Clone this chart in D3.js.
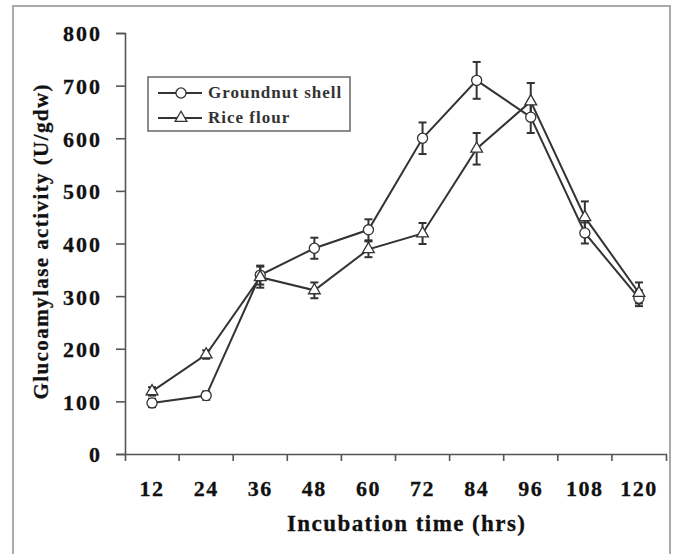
<!DOCTYPE html>
<html>
<head>
<meta charset="utf-8">
<script src="https://cdn.jsdelivr.net/npm/d3@7"></script>
<style>
  body { margin: 0; background: #fff; }
  svg { display: block; font-family: "Liberation Serif", "Times New Roman", serif; }
  .axis text { font-family: "Liberation Serif", serif; font-size: 22px; font-weight: bold; fill: #111; stroke: #111; stroke-width: 0.3; }
  .axis path, .axis line { stroke: #555; stroke-width: 1.6; }
</style>
</head>
<body>
<svg id="chart" width="677" height="554"></svg>
<script>
'use strict';

// incubation time (hrs)
const hours = ['12', '24', '36', '48', '60', '72', '84', '96', '108', '120'];

// glucoamylase activity (U/gdw)
const groundnut = [97, 111, 340, 391, 426, 600, 710, 640, 420, 296];
const groundnutErr = [8, 8, 18, 20, 20, 30, 35, 30, 20, 15];

const rice = [119, 189, 336, 311, 389, 419, 580, 670, 450, 306];
const riceErr = [8, 8, 20, 15, 15, 20, 30, 35, 30, 20];

const yTicks = [0, 100, 200, 300, 400, 500, 600, 700, 800];

const svg = d3.select('#chart');

// figure frame
svg.append('rect')
  .attr('x', 13)
  .attr('y', 6)
  .attr('width', 657)
  .attr('height', 560)
  .attr('fill', 'none')
  .attr('stroke', '#aaa')
  .attr('stroke-width', 2);

const x = d3.scaleBand()
  .domain(hours)
  .range([125, 666]);

const y = d3.scaleLinear()
  .domain([0, 800])
  .range([454, 33]);

const cx = h => x(h) + x.bandwidth() / 2;

// y axis
svg.append('g')
  .attr('class', 'axis')
  .attr('transform', 'translate(125,0)')
  .call(d3.axisLeft(y).tickValues(yTicks).tickSize(9).tickPadding(14).tickFormat(d3.format('d')))
  .call(g => g.selectAll('text').attr('letter-spacing', 2).attr('dy', '0.36em'));

// x axis, labels centred in each category
svg.append('g')
  .attr('class', 'axis')
  .attr('transform', 'translate(0,454)')
  .call(d3.axisBottom(x).tickSizeInner(0).tickSizeOuter(7).tickPadding(26))
  .call(g => g.selectAll('text').attr('letter-spacing', 1.5));

// category boundary ticks
svg.append('g')
  .attr('class', 'axis')
  .selectAll('line')
  .data(hours.slice(1))
  .join('line')
  .attr('x1', d => x(d))
  .attr('x2', d => x(d))
  .attr('y1', 454)
  .attr('y2', 461);

// axis titles
svg.append('text')
  .attr('x', 406)
  .attr('y', 531)
  .attr('text-anchor', 'middle')
  .attr('font-size', 23)
  .attr('font-weight', 'bold')
  .attr('fill', '#111')
  .attr('stroke', '#111')
  .attr('stroke-width', 0.3)
  .attr('textLength', 238)
  .text('Incubation time (hrs)');

svg.append('text')
  .attr('transform', 'translate(48,242) rotate(-90)')
  .attr('text-anchor', 'middle')
  .attr('font-size', 21)
  .attr('font-weight', 'bold')
  .attr('fill', '#111')
  .attr('stroke', '#111')
  .attr('stroke-width', 0.3)
  .attr('textLength', 315)
  .text('Glucoamylase activity (U/gdw)');

const series = [
  {name: 'Groundnut shell', values: groundnut, err: groundnutErr, marker: 'circle'},
  {name: 'Rice flour', values: rice, err: riceErr, marker: 'triangle'}
];

const line = d3.line()
  .x((d, i) => cx(hours[i]))
  .y(d => y(d));

const symbolPath = {
  circle: d3.symbol(d3.symbolCircle, 80)(),
  triangle: d3.symbol(d3.symbolTriangle, 60)()
};

const ink = '#333';

series.forEach(s => {
  svg.append('path')
    .datum(s.values)
    .attr('d', line)
    .attr('fill', 'none')
    .attr('stroke', ink)
    .attr('stroke-width', 2);
});

// error bars
series.forEach(s => {
  const bars = svg.append('g')
    .selectAll('g')
    .data(s.values.map((v, i) => ({h: hours[i], v: v, e: s.err[i]})))
    .join('g')
    .attr('stroke', ink)
    .attr('stroke-width', 2);

  bars.append('line')
    .attr('x1', d => cx(d.h))
    .attr('x2', d => cx(d.h))
    .attr('y1', d => y(d.v - d.e))
    .attr('y2', d => y(d.v + d.e));

  [-1, 1].forEach(sign => {
    bars.append('line')
      .attr('x1', d => cx(d.h) - 4)
      .attr('x2', d => cx(d.h) + 4)
      .attr('y1', d => y(d.v + sign * d.e))
      .attr('y2', d => y(d.v + sign * d.e));
  });
});

// markers
series.forEach(s => {
  svg.append('g')
    .selectAll('path')
    .data(s.values)
    .join('path')
    .attr('transform', (d, i) => `translate(${cx(hours[i])},${y(d)})`)
    .attr('d', symbolPath[s.marker])
    .attr('fill', '#fff')
    .attr('stroke', ink)
    .attr('stroke-width', 1.3);
});

// legend
const legend = svg.append('g')
  .attr('transform', 'translate(148,77)');

legend.append('rect')
  .attr('width', 202)
  .attr('height', 54)
  .attr('fill', '#fff')
  .attr('stroke', '#666')
  .attr('stroke-width', 1.5);

const item = legend.selectAll('g')
  .data(series)
  .join('g')
  .attr('transform', (d, i) => `translate(0,${16 + i * 25})`);

item.append('line')
  .attr('x1', 10)
  .attr('x2', 54)
  .attr('stroke', ink)
  .attr('stroke-width', 2);

item.append('path')
  .attr('transform', 'translate(33,0)')
  .attr('d', d => symbolPath[d.marker])
  .attr('fill', '#fff')
  .attr('stroke', ink)
  .attr('stroke-width', 1.3);

item.append('text')
  .attr('x', 60)
  .attr('y', 5)
  .attr('font-size', 17)
  .attr('font-weight', 'bold')
  .attr('letter-spacing', 1)
  .attr('fill', '#333')
  .text(d => d.name);
</script>
</body>
</html>
